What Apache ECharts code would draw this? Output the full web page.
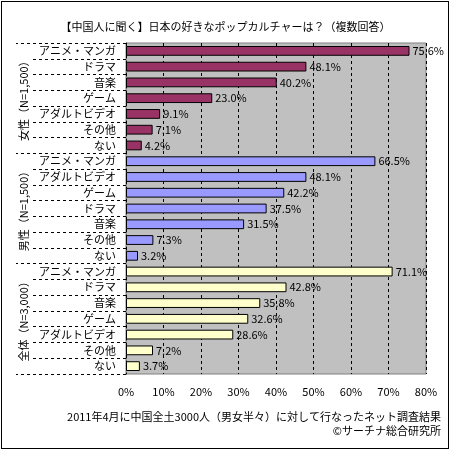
<!DOCTYPE html>
<html>
<head>
<meta charset="utf-8">
<script src="https://cdn.jsdelivr.net/npm/echarts@6/dist/echarts.min.js"></script>
<style>
html, body { margin: 0; padding: 0; background: #fff; }
#chart { width: 451px; height: 451px; }
#frame { position: absolute; left: 1px; top: 1px; width: 446px; height: 446px; border: 1px solid #000; pointer-events: none; }
</style>
</head>
<body>
<div id="chart"></div>
<div id="frame"></div>
<script>
var groupNames = ['女性（N=1,500）', '男性（N=1,500）', '全体（N=3,000）'];
var femaleCats = ['アニメ・マンガ', 'ドラマ', '音楽', 'ゲーム', 'アダルトビデオ', 'その他', 'ない'];
var femaleVals = [75.6, 48.1, 40.2, 23.0, 9.1, 7.1, 4.2];
var maleCats = ['アニメ・マンガ', 'アダルトビデオ', 'ゲーム', 'ドラマ', '音楽', 'その他', 'ない'];
var maleVals = [66.5, 48.1, 42.2, 37.5, 31.5, 7.3, 3.2];
var allCats = ['アニメ・マンガ', 'ドラマ', '音楽', 'ゲーム', 'アダルトビデオ', 'その他', 'ない'];
var allVals = [71.1, 42.8, 35.8, 32.6, 28.6, 7.2, 3.7];
var groupColors = ['#993366', '#9999FF', '#FFFFCC'];

var font = '"Noto Sans CJK JP", sans-serif';

var cats = [];
var rows = [];
var groups = [[femaleCats, femaleVals], [maleCats, maleVals], [allCats, allVals]];
groups.forEach(function (g, gi) {
	for (var i = 0; i < g[0].length; i++) {
		cats.push(g[0][i] + '#' + gi + '_' + i);
		rows.push({ value: g[1][i], itemStyle: { color: groupColors[gi] } });
	}
});

var chart = echarts.init(document.getElementById('chart'));
chart.setOption({
	animation: false,
	title: {
		text: '【中国人に聞く】日本の好きなポップカルチャーは？（複数回答）',
		left: 'center',
		top: 16,
		textStyle: { fontFamily: font, fontSize: 11, fontWeight: 'normal', color: '#000' }
	},
	graphic: [
		{ type: 'text', right: 10, top: 411, style: { text: '2011年4月に中国全土3000人（男女半々）に対して行なったネット調査結果', font: '11px ' + font, fill: '#000' } },
		{ type: 'text', right: 10, top: 425, style: { text: '©サーチナ総合研究所', font: '11px ' + font, fill: '#000' } }
	],
	grid: {
		left: 126, right: 25, top: 43, bottom: 77,
		show: true, backgroundColor: '#C0C0C0', borderColor: '#808080', borderWidth: 1
	},
	xAxis: {
		type: 'value', min: 0, max: 80, interval: 10,
		axisLine: { show: false },
		axisTick: { show: false },
		axisLabel: { formatter: '{value}%', fontFamily: font, fontSize: 11, color: '#000', margin: 12 },
		splitLine: { show: true, lineStyle: { color: '#000', type: [3, 3], width: 1 } }
	},
	yAxis: [{
		type: 'category', data: cats, inverse: true,
		axisLine: { show: true, lineStyle: { color: '#000', type: [3, 3] } },
		axisTick: { show: true, length: 93, interval: 0, lineStyle: { color: '#000', type: [3, 3] } },
		axisLabel: {
			interval: 0, margin: 10, fontFamily: font, fontSize: 11, color: '#000',
			formatter: function (v) { return v.split('#')[0]; }
		}
	}, {
		type: 'category', data: groupNames, inverse: true, position: 'left',
		axisLine: { show: false },
		axisTick: { show: true, length: 110, interval: 0, lineStyle: { color: '#000', type: [3, 3] } },
		axisLabel: { interval: 0, rotate: 90, margin: 97, fontFamily: font, fontSize: 11, color: '#000' }
	}],
	series: [{
		type: 'bar', yAxisIndex: 0, data: rows, barCategoryGap: '38%',
		itemStyle: { borderColor: '#000', borderWidth: 1 },
		label: {
			show: true, position: 'right', distance: 3,
			fontFamily: font, fontSize: 11, color: '#000',
			formatter: function (p) { return p.value.toFixed(1) + '%'; }
		}
	}]
});
</script>
</body>
</html>
